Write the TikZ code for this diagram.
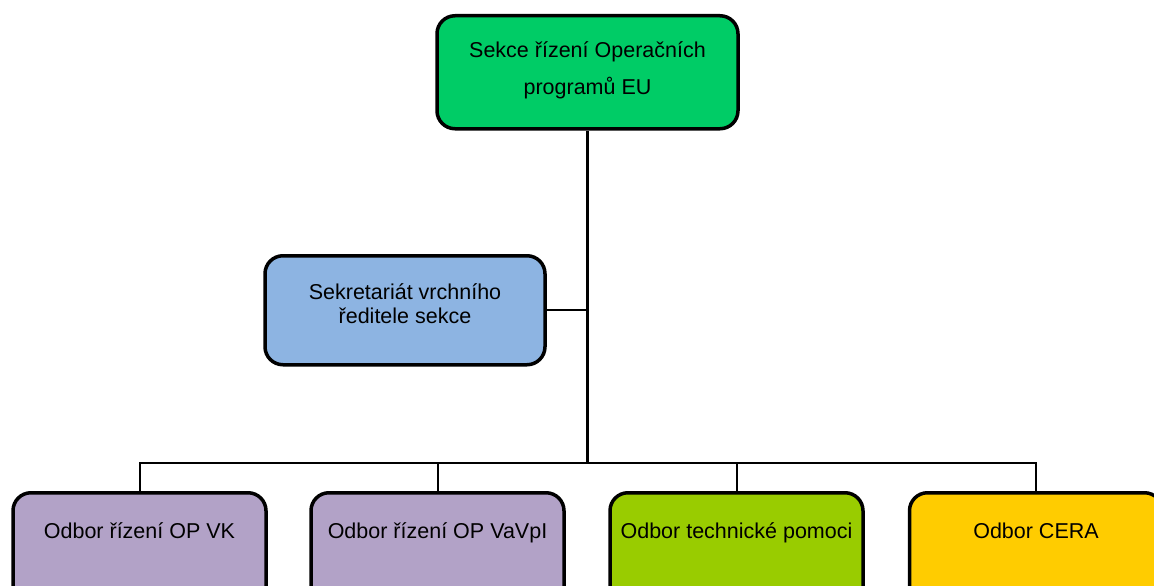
\documentclass[tikz,border=0pt]{standalone}
\usepackage{fontspec}
\setmainfont{Liberation Sans}
\definecolor{topgreen}{HTML}{00CC66}
\definecolor{secblue}{HTML}{8DB4E2}
\definecolor{lilac}{HTML}{B2A2C7}
\definecolor{lime}{HTML}{99CC00}
\definecolor{gold}{HTML}{FFCC00}
\begin{document}
\begin{tikzpicture}[x=1pt,y=-1pt,
  box/.style={draw=black, line width=3.5pt, rounded corners=18pt, align=center,
    inner xsep=0pt, text height=15.5pt, anchor=north,
    font=\fontsize{21.5}{36.7}\selectfont},
  lowbox/.style={box, minimum width=253, inner ysep=30pt, text depth=44.5pt},
  conn/.style={draw=black, line width=2pt},
  mainconn/.style={draw=black, line width=3pt}]
\useasboundingbox (0,0) rectangle (1154,586);
\clip (0,0) rectangle (1154,586);
\node[box, fill=topgreen, minimum width=301, inner ysep=26.5pt,
  text height=52.2pt, text depth=7.8pt]
  (top) at (587.5,14) {Sekce řízení Operačních\\programů EU};
\node[box, fill=secblue, minimum width=280, inner ysep=27.8pt,
  text height=39.9pt, text depth=13.5pt,
  font=\fontsize{21.5}{24.4}\selectfont] (sek) at (405,254)
  {Sekretariát vrchního\\ředitele sekce};
\node[lowbox, fill=lilac] (vk) at (139.5,491) {Odbor řízení OP VK};
\node[lowbox, fill=lilac] (vavpi) at (437.5,491) {Odbor řízení OP VaVpI};
\node[lowbox, fill=lime] (tp) at (736.5,491) {Odbor technické pomoci};
\node[lowbox, fill=gold] (cera) at (1036,491) {Odbor CERA};
\coordinate (j) at (587.5,463);
\draw[mainconn] (top.south) -- (j);
\draw[conn] (sek.east) -- (sek.east -| j);
\draw[conn] (vk.north) |- (j) -| (cera.north);
\draw[conn] (vavpi.north) -- (vavpi.north |- j);
\draw[conn] (tp.north) -- (tp.north |- j);
\end{tikzpicture}
\end{document}
